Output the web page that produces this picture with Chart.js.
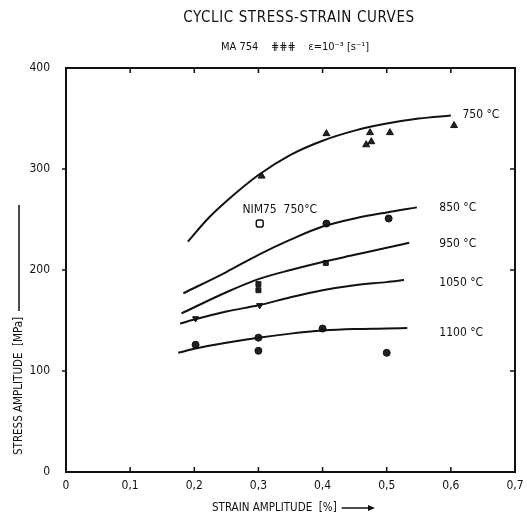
<!DOCTYPE html>
<html>
<head>
<meta charset="utf-8">
<script src="https://cdn.jsdelivr.net/npm/chart.js@4/dist/chart.umd.min.js"></script>
<style>
    html, body { margin: 0; padding: 0; background: #fff; }
    #wrap { width: 527px; height: 522px; }
</style>
</head>
<body>
<div id="wrap"><canvas id="chart" width="527" height="522"></canvas></div>
<script>
// fitted curves, strain amplitude [%] vs stress amplitude [MPa]
const curve750 = [[0.19, 228], [0.22, 250], [0.25, 268], [0.3, 294], [0.35, 314], [0.4, 328], [0.45, 338], [0.5, 345], [0.55, 350], [0.6, 353]];
const curve850 = [[0.183, 177], [0.25, 198], [0.3, 215], [0.35, 230], [0.4, 243], [0.45, 251], [0.5, 257], [0.547, 262]];
const curve950 = [[0.18, 157], [0.25, 178], [0.3, 191], [0.35, 200], [0.4, 208], [0.45, 215], [0.5, 222], [0.535, 227]];
const curve1050 = [[0.178, 147], [0.2, 151], [0.25, 159], [0.3, 165], [0.35, 173], [0.4, 180], [0.45, 185], [0.5, 188], [0.527, 190]];
const curve1100 = [[0.175, 118], [0.2, 122], [0.25, 128], [0.3, 133], [0.35, 137], [0.4, 140], [0.45, 141.5], [0.5, 142], [0.532, 142.5]];

// measured points
const points750 = [[0.305, 293], [0.406, 335], [0.474, 336], [0.468, 324], [0.476, 327], [0.505, 336], [0.605, 343]];
const points850 = [[0.406, 246], [0.503, 251]];
const points950 = [[0.3, 180], [0.3, 186], [0.405, 207]];
const points1050 = [[0.202, 152], [0.302, 165]];
const points1100 = [[0.202, 126], [0.3, 133], [0.3, 120], [0.4, 142], [0.5, 118]];
const pointsNim75 = [[0.302, 246]];

const curveLabels = ['750 °C', '850 °C', '950 °C', '1050 °C', '1100 °C', 'NIM75  750°C'];
const labelAnchors = [[0.618, 354], [0.582, 262], [0.582, 226], [0.582, 187], [0.582, 138], [0.275, 260]];

const xTicks = [0, 0.1, 0.2, 0.3, 0.4, 0.5, 0.6, 0.7];
const yTicks = [0, 100, 200, 300, 400];

const FONT = '"DejaVu Sans Condensed", "DejaVu Sans", sans-serif';

const toXY = (arr) => arr.map(([x, y]) => ({ x, y }));

function curveDataset(arr) {
    return {
        type: 'line',
        data: toXY(arr),
        borderColor: '#111',
        borderWidth: 2,
        pointRadius: 0,
        cubicInterpolationMode: 'monotone',
        fill: false,
    };
}

function pointDataset(arr, style, radius, rotation) {
    return {
        type: 'scatter',
        data: toXY(arr),
        pointStyle: style,
        pointRadius: radius,
        rotation: rotation || 0,
        backgroundColor: '#222',
        borderColor: '#111',
        borderWidth: 1,
    };
}

const frameAndText = {
    id: 'frameAndText',
    afterDraw(chart) {
        const { ctx, chartArea: a, scales: { x, y } } = chart;
        ctx.save();
        ctx.strokeStyle = '#111';
        ctx.lineWidth = 2;
        ctx.strokeRect(a.left, a.top, a.right - a.left, a.bottom - a.top);

        // small inward ticks on the frame
        ctx.lineWidth = 1.5;
        ctx.beginPath();
        xTicks.slice(1, -1).forEach((v) => {
            const px = x.getPixelForValue(v);
            ctx.moveTo(px, a.bottom); ctx.lineTo(px, a.bottom - 5);
            ctx.moveTo(px, a.top); ctx.lineTo(px, a.top + 5);
        });
        yTicks.slice(1, -1).forEach((v) => {
            const py = y.getPixelForValue(v);
            ctx.moveTo(a.left, py); ctx.lineTo(a.left - 4, py);
            ctx.moveTo(a.right, py); ctx.lineTo(a.right - 5, py);
        });
        ctx.stroke();

        // curve labels
        ctx.fillStyle = '#111';
        ctx.font = '12px ' + FONT;
        ctx.textBaseline = 'middle';
        ctx.textAlign = 'left';
        curveLabels.forEach((t, i) => {
            const [vx, vy] = labelAnchors[i];
            ctx.fillText(t, x.getPixelForValue(vx), y.getPixelForValue(vy));
        });

        // titles
        ctx.textAlign = 'center';
        ctx.font = '15px ' + FONT;
        ctx.letterSpacing = '0.6px';
        ctx.fillText('CYCLIC STRESS-STRAIN CURVES', 299, 18);
        ctx.letterSpacing = '0px';
        ctx.font = '11px ' + FONT;
        ctx.fillText('MA 754    ⋕⋕⋕    ε=10⁻³ [s⁻¹]', 295, 47);

        // x axis title with arrow
        ctx.font = '11.5px ' + FONT;
        ctx.textAlign = 'left';
        ctx.fillText('STRAIN AMPLITUDE  [%]', 212, 508);
        const tw = ctx.measureText('STRAIN AMPLITUDE  [%]').width;
        ctx.lineWidth = 1.5;
        ctx.beginPath();
        ctx.moveTo(212 + tw + 5, 508); ctx.lineTo(373, 508);
        ctx.stroke();
        ctx.beginPath();
        ctx.moveTo(375, 508); ctx.lineTo(368, 505); ctx.lineTo(368, 511); ctx.closePath();
        ctx.fill();

        // y axis title with line
        ctx.translate(19, 455);
        ctx.rotate(-Math.PI / 2);
        ctx.fillText('STRESS AMPLITUDE  [MPa]', 0, 0);
        const w = ctx.measureText('STRESS AMPLITUDE  [MPa]').width;
        ctx.beginPath();
        ctx.moveTo(w + 6, 0); ctx.lineTo(w + 112, 0);
        ctx.stroke();
        ctx.restore();
    },
};

new Chart(document.getElementById('chart'), {
    type: 'scatter',
    data: {
        datasets: [
            curveDataset(curve750),
            curveDataset(curve850),
            curveDataset(curve950),
            curveDataset(curve1050),
            curveDataset(curve1100),
            pointDataset(points750, 'triangle', 4),
            pointDataset(points850, 'circle', 3.5),
            pointDataset(points950, 'rect', 3.5),
            pointDataset(points1050, 'triangle', 3.5, 180),
            pointDataset(points1100, 'circle', 3.5),
            Object.assign(pointDataset(pointsNim75, 'rectRounded', 4), { backgroundColor: '#fff', borderWidth: 1.5 }),
        ],
    },
    options: {
        responsive: false,
        animation: false,
        layout: { padding: { left: 0, top: 68, right: 12, bottom: 0 } },
        plugins: {
            legend: { display: false },
            tooltip: { enabled: false },
        },
        scales: {
            x: {
                type: 'linear',
                min: 0,
                max: 0.7,
                afterFit: (s) => { s.height = 50; s.paddingRight = 0; s.paddingLeft = 0; },
                afterBuildTicks: (s) => { s.ticks = xTicks.map((v) => ({ value: v })); },
                grid: { display: false, drawTicks: false },
                border: { display: false },
                ticks: {
                    padding: 7,
                    color: '#111',
                    font: { family: FONT, size: 12 },
                    callback: (v) => (v === 0 ? '0' : v.toFixed(1).replace('.', ',')),
                },
            },
            y: {
                type: 'linear',
                min: 0,
                max: 400,
                afterFit: (s) => { s.width = 66; s.paddingTop = 0; s.paddingBottom = 0; },
                afterBuildTicks: (s) => { s.ticks = yTicks.map((v) => ({ value: v })); },
                grid: { display: false, drawTicks: false },
                border: { display: false },
                ticks: {
                    padding: 16,
                    color: '#111',
                    font: { family: FONT, size: 12 },
                },
            },
        },
    },
    plugins: [frameAndText],
});
</script>
</body>
</html>
